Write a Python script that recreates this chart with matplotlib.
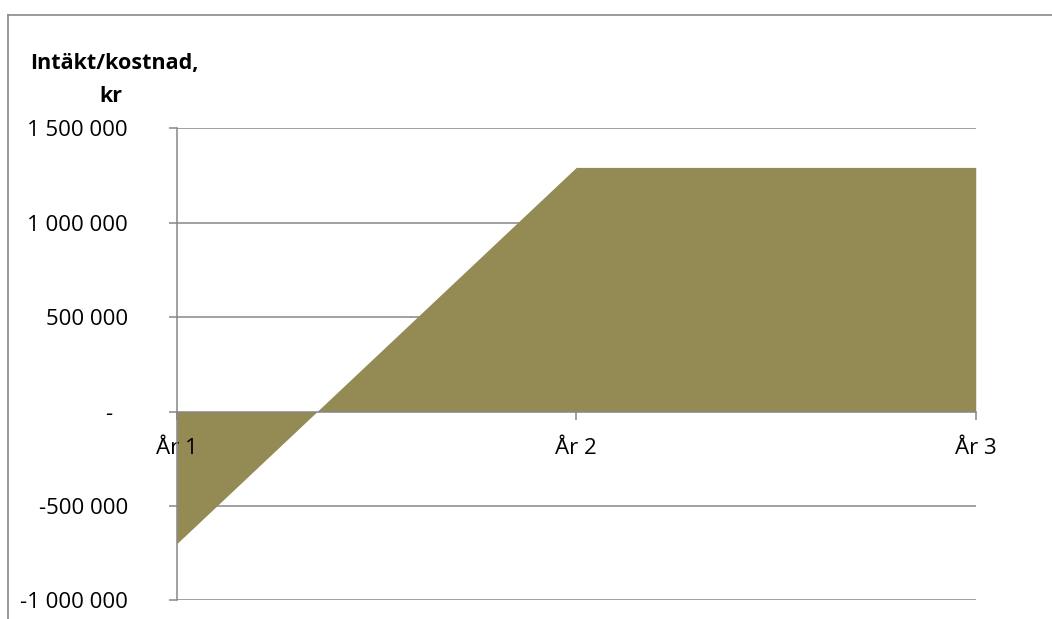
import matplotlib.pyplot as plt
from matplotlib.lines import Line2D
from matplotlib.transforms import ScaledTranslation

# Data
years = ["År 1", "År 2", "År 3"]
result = [-700000, 1293000, 1293000]
y_ticks = [-1000000, -500000, 0, 500000, 1000000, 1500000]
y_labels = ["-1 000 000", "-500 000", "-", "500 000", "1 000 000", "1 500 000"]

fill_color = "#948A54"
grid_color = "#868686"

plt.rcParams["font.family"] = ["Open Sans", "DejaVu Sans"]

fig = plt.figure(figsize=(10.52, 6.19), dpi=100)
ax = fig.add_axes([0.168, 0.0302, 0.7595, 0.7625])
ax.set_axisbelow(False)

x = list(range(len(years)))
ax.fill_between(x, 0, result, color=fill_color, linewidth=0, zorder=2)

ax.set_xlim(0, len(years) - 1)
ax.set_ylim(-1000000, 1500000)

# Gridlines behind the area
for v in y_ticks:
    if v != 0:
        ax.axhline(v, color=grid_color, linewidth=1.1, zorder=1)

ax.set_yticks(y_ticks)
ax.set_yticklabels(y_labels)
ax.set_xticks(x)
ax.set_xticklabels(years)

for side in ["top", "right"]:
    ax.spines[side].set_visible(False)
ax.spines["bottom"].set_position(("data", 0))
for side in ["left", "bottom"]:
    ax.spines[side].set_color(grid_color)
    ax.spines[side].set_linewidth(1.1)
    ax.spines[side].set_zorder(3)

ax.tick_params(axis="y", direction="out", length=6, width=1.1, color=grid_color,
               pad=29, labelsize=16)
ax.tick_params(axis="x", direction="out", length=6, width=1.1, color=grid_color,
               pad=13, labelsize=16)

# zero label sits a bit further left, like an accounting format
for lbl in ax.get_yticklabels():
    if lbl.get_text() == "-":
        lbl.set_transform(lbl.get_transform() + ScaledTranslation(-16 / 100, 0, fig.dpi_scale_trans))

fig.text(114 / 1052, 1 - 64 / 619, "Intäkt/kostnad,", ha="center", va="center",
         fontsize=15.5, fontweight="bold")
fig.text(111 / 1052, 1 - 96 / 619, "kr", ha="center", va="center",
         fontsize=15.5, fontweight="bold")

# outer chart frame
frame_kw = dict(color="#898989", linewidth=1.2, transform=fig.transFigure)
fig.add_artist(Line2D([8 / 1052, 1.01], [1 - 15 / 619, 1 - 15 / 619], **frame_kw))
fig.add_artist(Line2D([8 / 1052, 8 / 1052], [1 - 15 / 619, -0.01], **frame_kw))

fig.savefig("out.png", dpi=100)
